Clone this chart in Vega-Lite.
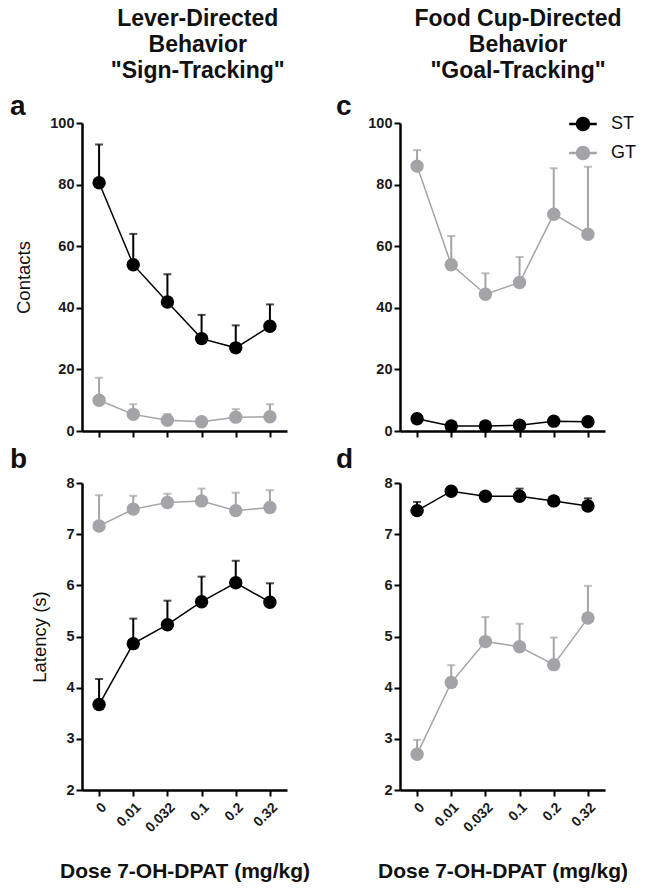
{
  "$schema": "https://vega.github.io/schema/vega-lite/v6.json",
  "padding": {"left": 10, "top": 8, "right": 0, "bottom": 0},
  "background": "white",
  "config": {
    "font": "Liberation Sans",
    "view": {"stroke": null},
    "axis": {"grid": false, "domainColor": "#000", "domainWidth": 2.5, "tickColor": "#000", "tickWidth": 2, "tickSize": 6, "labelFontWeight": "bold", "labelFontSize": 14.5, "labelColor": "#1a1a1a", "labelPadding": 2},
    "axisY": {"titleFontSize": 18.5, "titleFontWeight": "normal", "titleColor": "#111", "titlePadding": 16},
    "title": {"color": "#111"},
    "concat": {"spacing": 26}
  },
  "data": {"values": [
    {"panel": "a", "group": "ST", "dose": "0", "mean": 80.6, "upper": 93},
    {"panel": "a", "group": "ST", "dose": "0.01", "mean": 54, "upper": 64},
    {"panel": "a", "group": "ST", "dose": "0.032", "mean": 41.9, "upper": 50.9},
    {"panel": "a", "group": "ST", "dose": "0.1", "mean": 30, "upper": 37.7},
    {"panel": "a", "group": "ST", "dose": "0.2", "mean": 27, "upper": 34.3},
    {"panel": "a", "group": "ST", "dose": "0.32", "mean": 34, "upper": 41.1},
    {"panel": "a", "group": "GT", "dose": "0", "mean": 10, "upper": 17.3},
    {"panel": "a", "group": "GT", "dose": "0.01", "mean": 5.4, "upper": 8.7},
    {"panel": "a", "group": "GT", "dose": "0.032", "mean": 3.5, "upper": 5.5},
    {"panel": "a", "group": "GT", "dose": "0.1", "mean": 3, "upper": 4.5},
    {"panel": "a", "group": "GT", "dose": "0.2", "mean": 4.5, "upper": 7.1},
    {"panel": "a", "group": "GT", "dose": "0.32", "mean": 4.6, "upper": 8.7},
    {"panel": "c", "group": "GT", "dose": "0", "mean": 86, "upper": 91.2},
    {"panel": "c", "group": "GT", "dose": "0.01", "mean": 54, "upper": 63.3},
    {"panel": "c", "group": "GT", "dose": "0.032", "mean": 44.4, "upper": 51.2},
    {"panel": "c", "group": "GT", "dose": "0.1", "mean": 48.2, "upper": 56.5},
    {"panel": "c", "group": "GT", "dose": "0.2", "mean": 70.4, "upper": 85.3},
    {"panel": "c", "group": "GT", "dose": "0.32", "mean": 63.9, "upper": 85.8},
    {"panel": "c", "group": "ST", "dose": "0", "mean": 4, "upper": 5},
    {"panel": "c", "group": "ST", "dose": "0.01", "mean": 1.6, "upper": 2.5},
    {"panel": "c", "group": "ST", "dose": "0.032", "mean": 1.6, "upper": 2.5},
    {"panel": "c", "group": "ST", "dose": "0.1", "mean": 1.9, "upper": 3},
    {"panel": "c", "group": "ST", "dose": "0.2", "mean": 3.2, "upper": 4},
    {"panel": "c", "group": "ST", "dose": "0.32", "mean": 3, "upper": 4},
    {"panel": "b", "group": "GT", "dose": "0", "mean": 7.16, "upper": 7.76},
    {"panel": "b", "group": "GT", "dose": "0.01", "mean": 7.49, "upper": 7.75},
    {"panel": "b", "group": "GT", "dose": "0.032", "mean": 7.62, "upper": 7.79},
    {"panel": "b", "group": "GT", "dose": "0.1", "mean": 7.65, "upper": 7.89},
    {"panel": "b", "group": "GT", "dose": "0.2", "mean": 7.46, "upper": 7.81},
    {"panel": "b", "group": "GT", "dose": "0.32", "mean": 7.52, "upper": 7.86},
    {"panel": "b", "group": "ST", "dose": "0", "mean": 3.67, "upper": 4.17},
    {"panel": "b", "group": "ST", "dose": "0.01", "mean": 4.86, "upper": 5.35},
    {"panel": "b", "group": "ST", "dose": "0.032", "mean": 5.23, "upper": 5.7},
    {"panel": "b", "group": "ST", "dose": "0.1", "mean": 5.68, "upper": 6.17},
    {"panel": "b", "group": "ST", "dose": "0.2", "mean": 6.05, "upper": 6.48},
    {"panel": "b", "group": "ST", "dose": "0.32", "mean": 5.67, "upper": 6.04},
    {"panel": "d", "group": "ST", "dose": "0", "mean": 7.46, "upper": 7.63},
    {"panel": "d", "group": "ST", "dose": "0.01", "mean": 7.84, "upper": 7.88},
    {"panel": "d", "group": "ST", "dose": "0.032", "mean": 7.74, "upper": 7.8},
    {"panel": "d", "group": "ST", "dose": "0.1", "mean": 7.74, "upper": 7.89},
    {"panel": "d", "group": "ST", "dose": "0.2", "mean": 7.65, "upper": 7.7},
    {"panel": "d", "group": "ST", "dose": "0.32", "mean": 7.55, "upper": 7.7},
    {"panel": "d", "group": "GT", "dose": "0", "mean": 2.7, "upper": 2.98},
    {"panel": "d", "group": "GT", "dose": "0.01", "mean": 4.1, "upper": 4.44},
    {"panel": "d", "group": "GT", "dose": "0.032", "mean": 4.9, "upper": 5.38},
    {"panel": "d", "group": "GT", "dose": "0.1", "mean": 4.8, "upper": 5.25},
    {"panel": "d", "group": "GT", "dose": "0.2", "mean": 4.45, "upper": 4.98},
    {"panel": "d", "group": "GT", "dose": "0.32", "mean": 5.36, "upper": 5.99}
  ]},
  "resolve": {"scale": {"color": "independent"}, "legend": {"color": "independent"}},
  "hconcat": [
    {
      "title": {"text": ["Lever-Directed", "Behavior", "\"Sign-Tracking\""], "fontSize": 23, "fontWeight": "bold", "lineHeight": 26, "anchor": "middle", "dx": 38, "offset": 10},
      "spacing": 8,
      "resolve": {"scale": {"color": "independent"}, "legend": {"color": "independent"}},
      "vconcat": [
        {
          "title": {"text": "a", "anchor": "start", "frame": "group", "dx": -72, "fontSize": 28, "fontWeight": "bold", "offset": -6},
          "width": 205, "height": 308,
          "transform": [{"filter": "datum.panel === 'a'"}],
          "encoding": {
            "x": {"field": "dose", "type": "ordinal", "sort": ["0", "0.01", "0.032", "0.1", "0.2", "0.32"], "scale": {"type": "point", "padding": 0.5}, "axis": {"labels": false, "title": null}},
            "color": {"field": "group", "type": "nominal", "scale": {"domain": ["ST", "GT"], "range": ["#000000", "#a4a4a8"]}, "legend": null}
          },
          "layer": [
            {"mark": {"type": "rule", "strokeWidth": 2}, "encoding": {"y": {"field": "mean", "type": "quantitative", "scale": {"domain": [0, 100]}, "axis": {"title": "Contacts", "values": [0, 20, 40, 60, 80, 100]}}, "y2": {"field": "upper"}}},
            {"mark": {"type": "tick", "thickness": 2, "size": 8}, "encoding": {"y": {"field": "upper", "type": "quantitative"}}},
            {"mark": {"type": "line", "strokeWidth": 1.5}, "encoding": {"y": {"field": "mean", "type": "quantitative"}}},
            {"mark": {"type": "point", "filled": true, "size": 180, "opacity": 1}, "encoding": {"y": {"field": "mean", "type": "quantitative"}}}
          ]
        },
        {
          "title": {"text": "b", "anchor": "start", "frame": "group", "dx": -72, "fontSize": 28, "fontWeight": "bold", "offset": 1},
          "width": 205, "height": 307,
          "transform": [{"filter": "datum.panel === 'b'"}],
          "encoding": {
            "x": {"field": "dose", "type": "ordinal", "sort": ["0", "0.01", "0.032", "0.1", "0.2", "0.32"], "scale": {"type": "point", "padding": 0.5}, "axis": {"title": "Dose 7-OH-DPAT (mg/kg)", "labelAngle": -45, "labelFontSize": 14, "labelPadding": 4, "titleFontSize": 21, "titleFontWeight": "bold", "titlePadding": 26, "titleColor": "#111"}},
            "color": {"field": "group", "type": "nominal", "scale": {"domain": ["ST", "GT"], "range": ["#000000", "#a4a4a8"]}, "legend": null}
          },
          "layer": [
            {"mark": {"type": "rule", "strokeWidth": 2}, "encoding": {"y": {"field": "mean", "type": "quantitative", "scale": {"domain": [2, 8]}, "axis": {"title": "Latency (s)", "values": [2, 3, 4, 5, 6, 7, 8]}}, "y2": {"field": "upper"}}},
            {"mark": {"type": "tick", "thickness": 2, "size": 8}, "encoding": {"y": {"field": "upper", "type": "quantitative"}}},
            {"mark": {"type": "line", "strokeWidth": 1.5}, "encoding": {"y": {"field": "mean", "type": "quantitative"}}},
            {"mark": {"type": "point", "filled": true, "size": 180, "opacity": 1}, "encoding": {"y": {"field": "mean", "type": "quantitative"}}}
          ]
        }
      ]
    },
    {
      "title": {"text": ["Food Cup-Directed", "Behavior", "\"Goal-Tracking\""], "fontSize": 23, "fontWeight": "bold", "lineHeight": 26, "anchor": "middle", "dx": 32, "offset": 10},
      "spacing": 8,
      "resolve": {"scale": {"color": "independent"}, "legend": {"color": "independent"}},
      "vconcat": [
        {
          "title": {"text": "c", "anchor": "start", "frame": "group", "dx": -64, "fontSize": 28, "fontWeight": "bold", "offset": -6},
          "width": 205, "height": 308,
          "transform": [{"filter": "datum.panel === 'c'"}],
          "encoding": {
            "x": {"field": "dose", "type": "ordinal", "sort": ["0", "0.01", "0.032", "0.1", "0.2", "0.32"], "scale": {"type": "point", "padding": 0.5}, "axis": {"labels": false, "title": null}},
            "color": {"field": "group", "type": "nominal", "scale": {"domain": ["ST", "GT"], "range": ["#000000", "#a4a4a8"]}, "legend": {"title": null, "orient": "none", "legendX": 174, "legendY": -8, "labelFontSize": 18, "labelColor": "#111", "symbolType": "M-2.3,0L2.3,0M1,0A1,1,0,1,1,-1,0A1,1,0,1,1,1,0Z", "symbolSize": 144, "symbolStrokeWidth": 2, "symbolOpacity": 1, "rowPadding": 7, "labelOffset": 19, "encode": {"symbols": {"update": {"shape": {"value": "M-2.3,0L2.3,0M1,0A1,1,0,1,1,-1,0A1,1,0,1,1,1,0Z"}, "stroke": {"signal": "datum.value === 'ST' ? '#000000' : '#a4a4a8'"}, "fill": {"signal": "datum.value === 'ST' ? '#000000' : '#a4a4a8'"}, "strokeWidth": {"value": 2.5}, "opacity": {"value": 1}}}}}}
          },
          "layer": [
            {"mark": {"type": "rule", "strokeWidth": 2}, "encoding": {"y": {"field": "mean", "type": "quantitative", "scale": {"domain": [0, 100]}, "axis": {"title": null, "values": [0, 20, 40, 60, 80, 100]}}, "y2": {"field": "upper"}}},
            {"mark": {"type": "tick", "thickness": 2, "size": 8}, "encoding": {"y": {"field": "upper", "type": "quantitative"}}},
            {"mark": {"type": "line", "strokeWidth": 1.5}, "encoding": {"y": {"field": "mean", "type": "quantitative"}}},
            {"mark": {"type": "point", "filled": true, "size": 180, "opacity": 1}, "encoding": {"y": {"field": "mean", "type": "quantitative"}}}
          ]
        },
        {
          "title": {"text": "d", "anchor": "start", "frame": "group", "dx": -64, "fontSize": 28, "fontWeight": "bold", "offset": 1},
          "width": 205, "height": 307,
          "transform": [{"filter": "datum.panel === 'd'"}],
          "encoding": {
            "x": {"field": "dose", "type": "ordinal", "sort": ["0", "0.01", "0.032", "0.1", "0.2", "0.32"], "scale": {"type": "point", "padding": 0.5}, "axis": {"title": "Dose 7-OH-DPAT (mg/kg)", "labelAngle": -45, "labelFontSize": 14, "labelPadding": 4, "titleFontSize": 21, "titleFontWeight": "bold", "titlePadding": 26, "titleColor": "#111"}},
            "color": {"field": "group", "type": "nominal", "scale": {"domain": ["ST", "GT"], "range": ["#000000", "#a4a4a8"]}, "legend": null}
          },
          "layer": [
            {"mark": {"type": "rule", "strokeWidth": 2}, "encoding": {"y": {"field": "mean", "type": "quantitative", "scale": {"domain": [2, 8]}, "axis": {"title": null, "values": [2, 3, 4, 5, 6, 7, 8]}}, "y2": {"field": "upper"}}},
            {"mark": {"type": "tick", "thickness": 2, "size": 8}, "encoding": {"y": {"field": "upper", "type": "quantitative"}}},
            {"mark": {"type": "line", "strokeWidth": 1.5}, "encoding": {"y": {"field": "mean", "type": "quantitative"}}},
            {"mark": {"type": "point", "filled": true, "size": 180, "opacity": 1}, "encoding": {"y": {"field": "mean", "type": "quantitative"}}}
          ]
        }
      ]
    }
  ]
}
